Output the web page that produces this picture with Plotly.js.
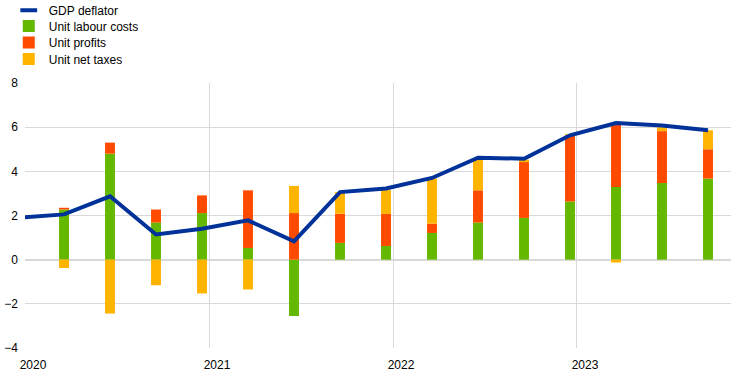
<!DOCTYPE html>
<html>
<head>
<meta charset="utf-8">
<script src="https://cdn.plot.ly/plotly-3.0.1.min.js"></script>
<style>
  html, body { margin: 0; padding: 0; background: #ffffff; }
  #chart { width: 744px; height: 378px; }
</style>
</head>
<body>
<div id="chart"></div>
<script>
// Quarters shown as bars
const quarters = ["2020Q1","2020Q2","2020Q3","2020Q4","2021Q1","2021Q2","2021Q3","2021Q4",
                  "2022Q1","2022Q2","2022Q3","2022Q4","2023Q1","2023Q2","2023Q3"];
// Contributions (percentage points)
const unitLabourCosts = [2.27, 4.80, 1.68, 2.11, 0.53, -2.55, 0.76, 0.62, 1.21, 1.68, 1.89, 2.63, 3.29, 3.47, 3.67];
const unitProfits     = [0.08, 0.50, 0.59, 0.80, 2.61, 2.11, 1.32, 1.45, 0.42, 1.46, 2.53, 3.00, 2.90, 2.35, 1.33];
const unitNetTaxes    = [-0.38, -2.44, -1.16, -1.53, -1.35, 1.23, 0.98, 1.08, 2.04, 1.43, 0.11, 0.05, -0.13, 0.18, 0.86];
// GDP deflator (annual % change), line starts one quarter earlier
const lineQuarters = ["2019Q4"].concat(quarters);
const gdpDeflator  = [1.90, 2.05, 2.87, 1.14, 1.40, 1.78, 0.83, 3.06, 3.22, 3.70, 4.62, 4.57, 5.63, 6.19, 6.08, 5.86];
// Year tick labels
const yearTicks = [2020, 2021, 2022, 2023];
const yearLabels = ["2020", "2021", "2022", "2023"];

// Position of a quarter on the continuous year axis
function qpos(q) {
  const y = parseInt(q.slice(0, 4), 10);
  const n = parseInt(q.slice(5), 10);
  return y + (n - 1) / 4 + 0.212;
}
const xBars = quarters.map(qpos);
const xLine = lineQuarters.map(qpos);

const BW = 0.054;
const font = "Arial, 'Liberation Sans', sans-serif";

const traces = [
  { type: "bar", name: "Unit labour costs", x: xBars, y: unitLabourCosts, width: BW,
    marker: { color: "#65B800" }, hoverinfo: "skip", legend: "legend2" },
  { type: "bar", name: "Unit profits", x: xBars, y: unitProfits, width: BW,
    marker: { color: "#FF4B00" }, hoverinfo: "skip", legend: "legend3" },
  { type: "bar", name: "Unit net taxes", x: xBars, y: unitNetTaxes, width: BW,
    marker: { color: "#FFB400" }, hoverinfo: "skip", legend: "legend4" },
  { type: "scatter", mode: "lines", name: "GDP deflator", x: xLine, y: gdpDeflator,
    line: { color: "#003299", width: 4 }, showlegend: false, hoverinfo: "skip" },
  { type: "scatter", mode: "markers", name: "GDP deflator", x: [null], y: [null],
    marker: { symbol: "line-ew", size: 12, color: "#003299", line: { color: "#003299", width: 4 } },
    hoverinfo: "skip", legend: "legend" }
];

const plotTop = 82.5, plotBottom = 348;
function legendAt(rowCenterPx) {
  return {
    x: -0.023, xanchor: "left",
    y: (plotBottom - rowCenterPx) / (plotBottom - plotTop), yanchor: "middle",
    font: { family: font, size: 12, color: "#000000" },
    bgcolor: "rgba(0,0,0,0)", borderwidth: 0, itemwidth: 30
  };
}

const layout = {
  width: 744, height: 378,
  margin: { l: 25, r: 13, t: plotTop, b: 378 - plotBottom, pad: 0, autoexpand: false },
  paper_bgcolor: "#ffffff", plot_bgcolor: "#ffffff",
  barmode: "relative",
  font: { family: font, size: 12, color: "#000000" },
  showlegend: true,
  legend: legendAt(9.5),
  legend2: legendAt(25.5),
  legend3: legendAt(42),
  legend4: legendAt(58.5),
  xaxis: {
    type: "linear", range: [2020, 2023.837],
    tickvals: yearTicks, ticktext: yearLabels,
    showgrid: true, gridcolor: "#d9d9d9", gridwidth: 1,
    zeroline: false, showline: false, ticks: "",
    ticklabelshift: 8, ticklabelstandoff: 8,
    tickfont: { family: font, size: 12, color: "#000000" }
  },
  yaxis: {
    range: [-4, 8], dtick: 2, tick0: 0,
    showgrid: true, gridcolor: "#d9d9d9", gridwidth: 1,
    zeroline: true, zerolinecolor: "#d9d9d9", zerolinewidth: 2,
    showline: false, ticks: "", ticklabelstandoff: 6,
    tickfont: { family: font, size: 12, color: "#000000" }
  }
};

Plotly.newPlot("chart", traces, layout, { staticPlot: true, displayModeBar: false });
</script>
</body>
</html>
